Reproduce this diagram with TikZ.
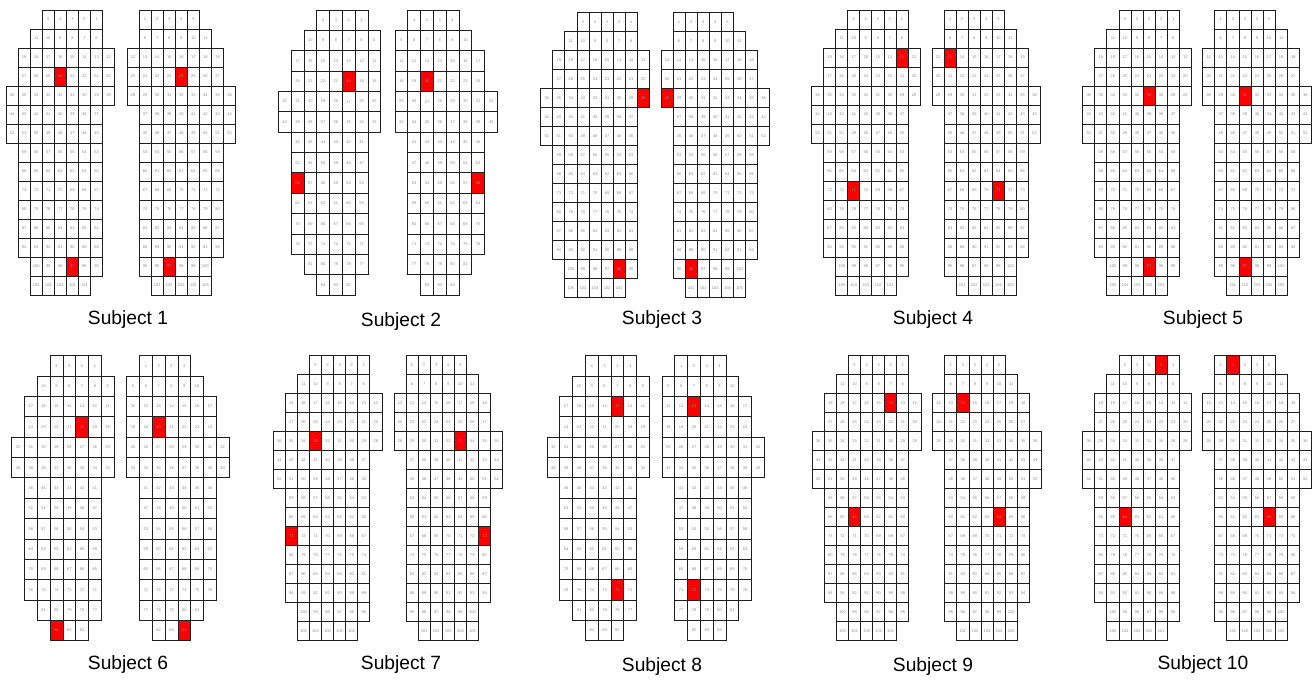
\documentclass[tikz,border=0pt]{standalone}
\usepackage{fontspec}
\setmainfont{Liberation Sans}

\definecolor{cellline}{HTML}{1E1E1E}
\definecolor{cellnum}{HTML}{8C8C8C}
\definecolor{hit}{HTML}{FF0000}

% rows of the two insole grids: first column / cells / first number
\def\rowsA{1/5/1, 1/6/6, 0/8/12, 0/8/20, 0/9/28, 1/8/37, 1/8/45, 1/7/53,
  1/7/60, 1/7/67, 1/7/74, 1/7/81, 1/7/88, 1/6/95, 2/5/101}
\def\rowsB{1/4/1, 0/6/5, 0/7/11, 0/7/18, 0/8/25, 0/8/33, 1/6/41, 1/6/47,
  1/6/53, 1/6/59, 1/6/65, 1/6/71, 1/5/77, 2/3/82}

% \insole{name}{x}{y}{grid A/B}{side L/R}{red top}{red bottom}
\newcommand{\insole}[7]{%
  \if#4A\def\cw{12.07}\def\ch{19}\def\lastcol{8}\let\rows\rowsA
  \else\def\cw{12.8}\def\ch{20.36}\def\lastcol{7}\let\rows\rowsB\fi
  \foreach \scol/\ncell/\fnum [count=\rw from 0] in \rows {
    \foreach \kk in {1,...,\ncell} {
      \pgfmathtruncatemacro\cellno{\fnum+\kk-1}
      \if#5L\pgfmathsetmacro\col{\lastcol-\scol-\kk+1}%
      \else\pgfmathsetmacro\col{\scol+\kk-1}\fi
      \ifnum\cellno=#6 \def\cellfill{hit}%
      \else\ifnum\cellno=#7 \def\cellfill{hit}%
      \else\def\cellfill{none}\fi\fi
      \node[cell, minimum width=\cw*0.75pt, minimum height=\ch*0.75pt,
        fill=\cellfill] (#1\cellno)
        at ({#2+(\col+0.5)*\cw}, {#3+(\rw+0.5)*\ch}) {\cellno};
    }
  }%
}

\begin{document}
\begin{tikzpicture}[x=0.75pt, y=-0.75pt,
  cell/.style={draw=cellline, line width=0.6pt, inner sep=0pt,
    text=cellnum, font=\fontsize{3}{3.5}\selectfont},
  subject/.style={inner sep=0pt, font=\fontsize{14.4}{17}\selectfont}]

\useasboundingbox (0,0) rectangle (1315,680);

% ---- Upper row ----
\insole{s1L}{6}{10}{A}{L}{24}{97}
\insole{s1R}{127}{10}{A}{R}{24}{97}
\insole{s2L}{278.3}{10}{B}{L}{20}{58}
\insole{s2R}{395}{10}{B}{R}{20}{58}
\insole{s3L}{540.7}{12.3}{A}{L}{28}{96}
\insole{s3R}{661}{12.3}{A}{R}{28}{96}
\insole{s4L}{811.5}{10}{A}{L}{13}{71}
\insole{s4R}{932}{10}{A}{R}{13}{71}
\insole{s5L}{1082.7}{10}{A}{L}{31}{97}
\insole{s5R}{1202.7}{10}{A}{R}{31}{97}

\node[subject] (lab1) at (128,320) {Subject 1};
\node[subject] (lab2) at (401,322) {Subject 2};
\node[subject] (lab3) at (662,320) {Subject 3};
\node[subject] (lab4) at (933,320) {Subject 4};
\node[subject] (lab5) at (1203,320) {Subject 5};

% ---- Lower row ----
\insole{s6L}{11.7}{355.7}{B}{L}{20}{84}
\insole{s6R}{126.7}{355.7}{B}{R}{20}{84}
\insole{s7L}{273.3}{355.7}{A}{L}{33}{73}
\insole{s7R}{394}{355.7}{A}{R}{33}{73}
\insole{s8L}{547}{355.7}{B}{L}{13}{72}
\insole{s8R}{662}{355.7}{B}{R}{13}{72}
\insole{s9L}{812.3}{355.5}{A}{L}{14}{64}
\insole{s9R}{932.7}{355.5}{A}{R}{14}{64}
\insole{s10L}{1082.7}{355.7}{A}{L}{2}{64}
\insole{s10R}{1202.7}{355.7}{A}{R}{2}{64}

\node[subject] (lab6) at (128,665) {Subject 6};
\node[subject] (lab7) at (401,665) {Subject 7};
\node[subject] (lab8) at (662,667) {Subject 8};
\node[subject] (lab9) at (933,667) {Subject 9};
\node[subject] (lab10) at (1203,665) {Subject 10};

\end{tikzpicture}
\end{document}
